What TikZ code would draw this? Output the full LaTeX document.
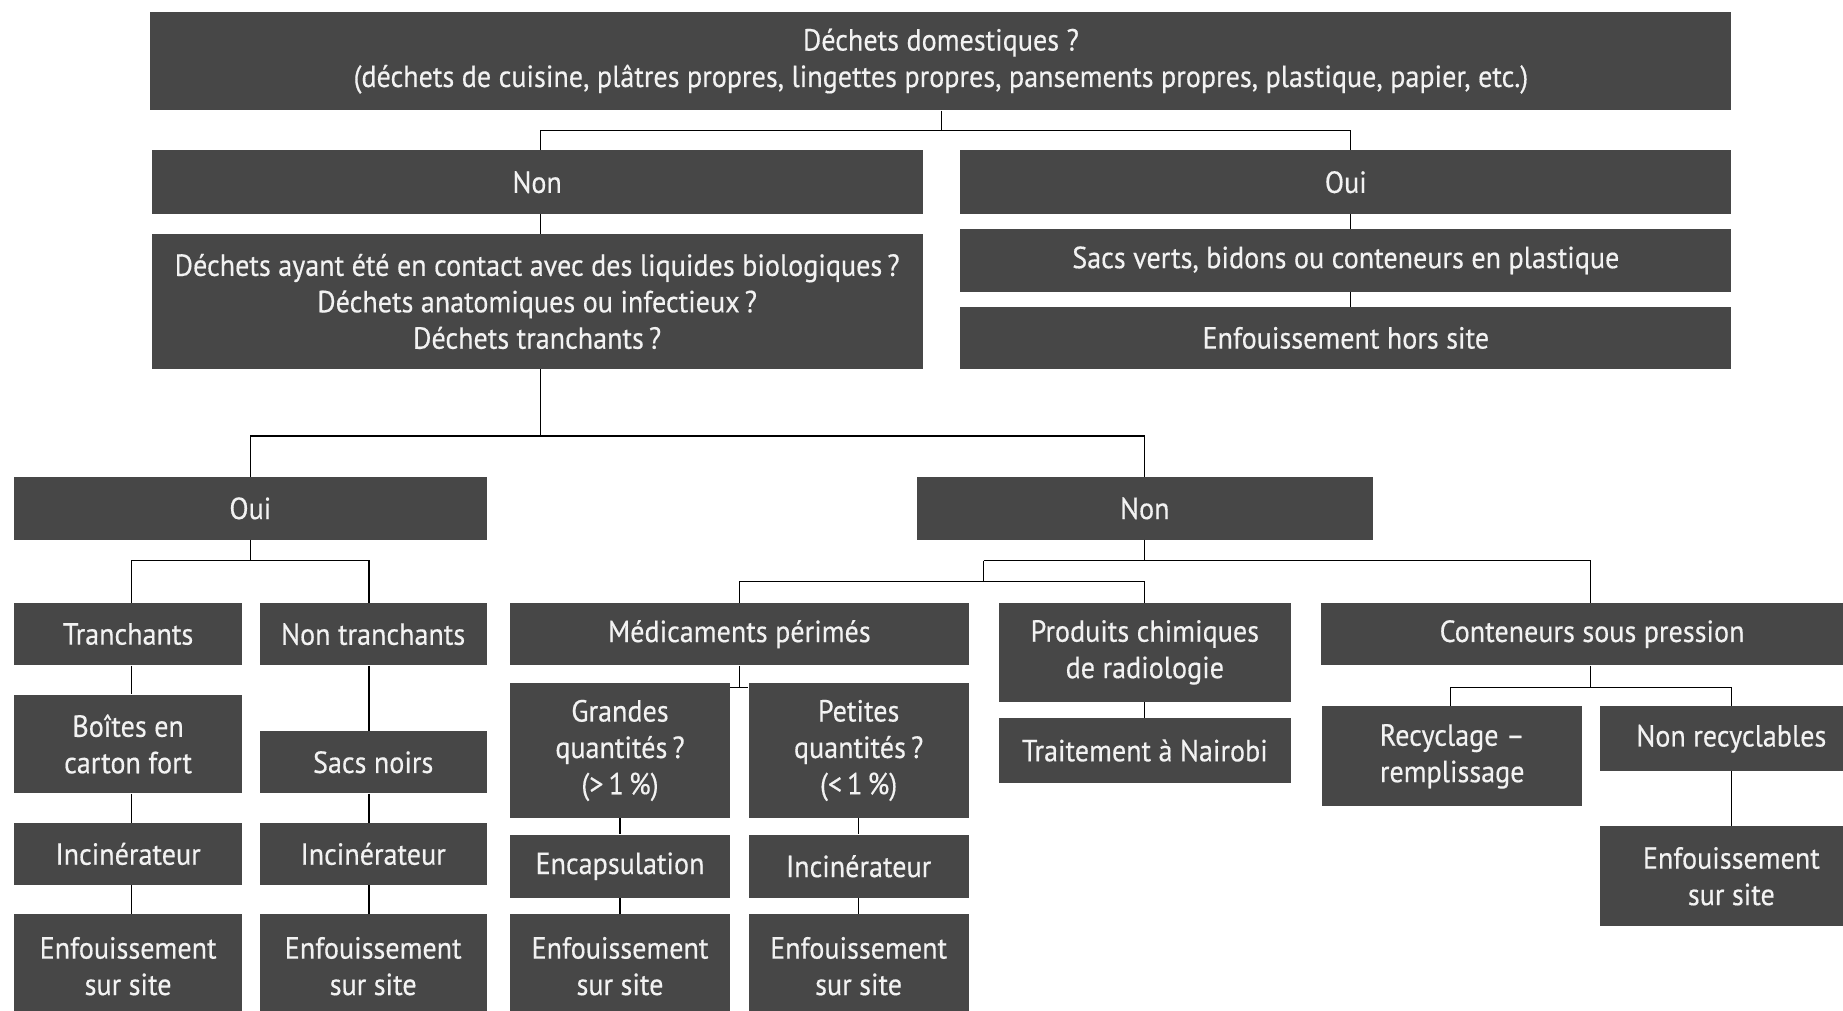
\documentclass[tikz,border=0pt]{standalone}
\usepackage{fontspec}
\setmainfont{PT Sans}[FakeStretch=0.92,FakeBold=0.4]
\usetikzlibrary{calc}
\definecolor{boxgray}{RGB}{71,71,71}
\definecolor{boxtext}{RGB}{242,242,242}
\tikzset{
  box/.style={fill=boxgray, text=boxtext, draw=none, inner sep=0pt, align=center,
    font=\fontsize{26}{31}\selectfont},
  link/.style={draw=black, line width=1.1pt}
}
% \bx{name}{x1}{y1}{x2}{y2}{text}
\newcommand{\bx}[6]{%
  \node[box, minimum width={#4-#2}, minimum height={#5-#3}] (#1) at ({(#2+#4)/2},{(#3+#5)/2}) {#6};}
\begin{document}
\begin{tikzpicture}[x=1pt,y=-1pt]
\clip (0,0) rectangle (1568,860);
\fill[white] (0,0) rectangle (1568,860);
% row 1
\bx{top}{128}{10}{1473}{94}{Déchets domestiques ?\\(déchets de cuisine, plâtres propres, lingettes propres, pansements propres, plastique, papier, etc.)}
\bx{non1}{129}{128}{785}{182}{Non}
\bx{oui1}{817}{128}{1473}{182}{Oui}
\bx{q}{129}{199}{785}{314}{Déchets ayant été en contact avec des liquides biologiques\,?\\Déchets anatomiques ou infectieux\,?\\Déchets tranchants\,?}
\bx{sacsv}{817}{195}{1473}{248}{Sacs verts, bidons ou conteneurs en plastique}
\bx{enfhs}{817}{261}{1473}{314}{Enfouissement hors site}
% row 2
\bx{oui2}{12}{406}{414}{459}{Oui}
\bx{non2}{780}{406}{1168}{459}{Non}
% left branch
\bx{tr}{12}{513}{206}{566}{Tranchants}
\bx{ntr}{221}{513}{414}{566}{Non tranchants}
\bx{boites}{12}{591}{206}{675}{Boîtes en\\carton fort}
\bx{sacsn}{221}{622}{414}{675}{Sacs noirs}
\bx{inc1}{12}{700}{206}{753}{Incinérateur}
\bx{inc2}{221}{700}{414}{753}{Incinérateur}
\bx{enf1}{12}{778}{206}{866}{Enfouissement\\sur site}
\bx{enf2}{221}{778}{414}{866}{Enfouissement\\sur site}
% medicaments
\bx{med}{434}{513}{824}{566}{Médicaments périmés}
\bx{grand}{434}{581}{621}{696}{Grandes\\quantités\,?\\(>\,1\,\%)}
\bx{petit}{637}{581}{824}{696}{Petites\\quantités\,?\\(<\,1\,\%)}
\bx{encap}{434}{710}{621}{764}{Encapsulation}
\bx{inc3}{637}{710}{824}{764}{Incinérateur}
\bx{enf3}{434}{778}{621}{866}{Enfouissement\\sur site}
\bx{enf4}{637}{778}{824}{866}{Enfouissement\\sur site}
% chemicals
\bx{chem}{850}{513}{1098}{597}{Produits chimiques\\de radiologie}
\bx{nairobi}{850}{611}{1098}{666}{Traitement à Nairobi}
% pressure containers
\bx{cont}{1124}{513}{1585}{566}{Conteneurs sous pression}
\bx{recyc}{1125}{601}{1346}{686}{Recyclage –\\remplissage}
\bx{nonrec}{1361}{601}{1585}{656}{Non recyclables}
\bx{enf5}{1361}{703}{1585}{788}{Enfouissement\\sur site}
% column x positions of connectors
\coordinate (xt) at (801,0);
\coordinate (xl) at (460,0);
\coordinate (xr) at (1149,0);
\coordinate (xtr) at (112,0);
\coordinate (xntr) at (314,0);
% junction coordinates
\coordinate (jt) at (801,111);
\coordinate (jq) at (460,371);
\coordinate (jo) at (213,477);
\coordinate (jn) at (837,477);
\coordinate (jm) at (837,495);
\coordinate (jmed) at (629,585);
\coordinate (jc) at (1353,585);
% connectors
\draw[link] (top.south -| xt) -- (jt);
\draw[link] (non1.north -| xl) |- (jt) -| (oui1.north -| xr);
\draw[link] (non1.south -| xl) -- (q.north -| xl);
\draw[link] (oui1.south -| xr) -- (sacsv.north -| xr);
\draw[link] (sacsv.south -| xr) -- (enfhs.north -| xr);
\draw[link] (q.south -| jq) -- (jq);
\draw[link] (oui2.north) |- (jq) -| (non2.north);
\draw[link] (oui2.south) -- (jo);
\draw[link] (tr.north -| xtr) |- (jo) -| (ntr.north -| xntr);
\draw[link] (tr.south -| xtr) -- (boites.north -| xtr);
\draw[link] (boites.south -| xtr) -- (inc1.north -| xtr);
\draw[link] (inc1.south -| xtr) -- (enf1.north -| xtr);
\draw[link] (ntr.south -| xntr) -- (sacsn.north -| xntr);
\draw[link] (sacsn.south -| xntr) -- (inc2.north -| xntr);
\draw[link] (inc2.south -| xntr) -- (enf2.north -| xntr);
\draw[link] (non2.south) -- (non2.south |- jn);
\draw[link] (jn) -| (cont.north -| jc);
\draw[link] (jn) -- (non2.south |- jn);
\draw[link] (jn) -- (jm);
\draw[link] (med.north) |- (jm) -| (chem.north);
\draw[link] (med.south) -- (jmed);
\draw[link] (grand.east |- jmed) -- (petit.west |- jmed);
\draw[link] (grand.south) -- (encap.north);
\draw[link] (encap.south) -- (enf3.north);
\draw[link] (petit.south) -- (inc3.north);
\draw[link] (inc3.south) -- (enf4.north);
\draw[link] (chem.south) -- (nairobi.north);
\draw[link] (cont.south -| jc) -- (jc);
\draw[link] (recyc.north -| 1234,0) |- (jc) -| (nonrec.north);
\draw[link] (nonrec.south) -- (enf5.north);
\end{tikzpicture}
\end{document}
